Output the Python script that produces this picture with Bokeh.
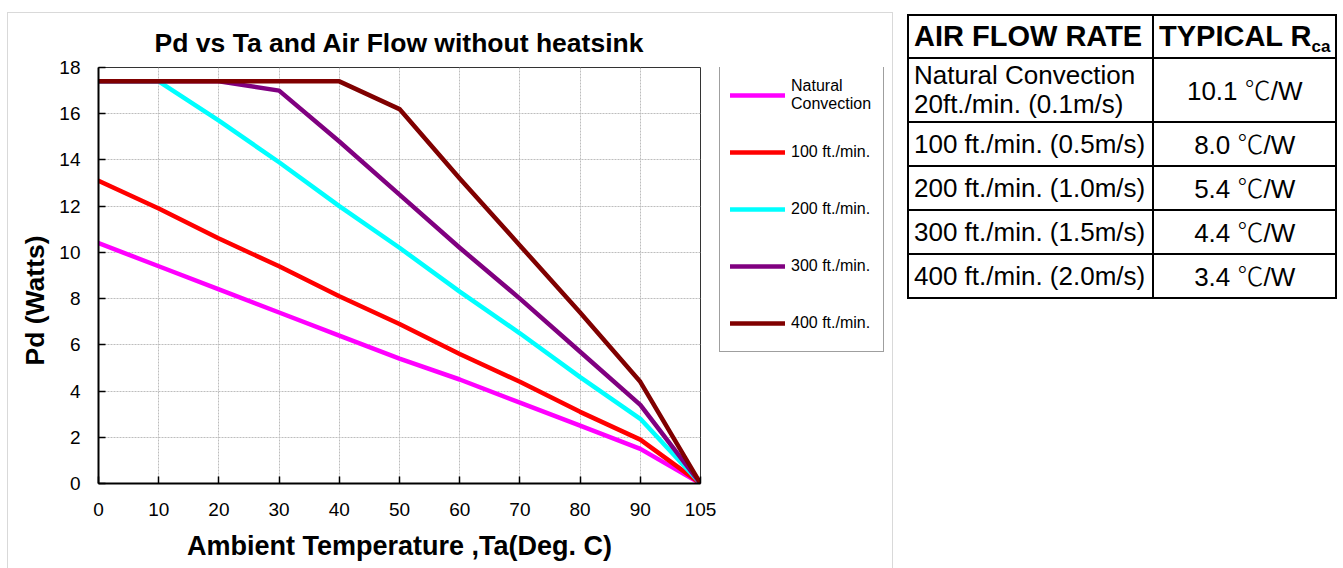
from bokeh.plotting import figure
from bokeh.models import (ColumnDataSource, Range1d, FixedTicker, Legend, LegendItem,
                          Title, Div)
from bokeh.layouts import row
from bokeh.embed import file_html
from bokeh.resources import INLINE

# ---------------- data ----------------
categories = ["0", "10", "20", "30", "40", "50", "60", "70", "80", "90", "105"]
natural = [10.4, 9.4, 8.4, 7.4, 6.4, 5.4, 4.5, 3.5, 2.5, 1.5, 0.0]
flow100 = [13.1, 11.9, 10.6, 9.4, 8.1, 6.9, 5.6, 4.4, 3.1, 1.9, 0.0]
flow200 = [17.4, 17.4, 15.7, 13.9, 12.0, 10.2, 8.3, 6.5, 4.6, 2.8, 0.0]
flow300 = [17.4, 17.4, 17.4, 17.0, 14.8, 12.5, 10.2, 8.0, 5.7, 3.4, 0.0]
flow400 = [17.4, 17.4, 17.4, 17.4, 17.4, 16.2, 13.2, 10.3, 7.4, 4.4, 0.0]
series_names = ["Natural\nConvection", "100 ft./min.", "200 ft./min.", "300 ft./min.", "400 ft./min."]
series_colors = ["#FF00FF", "#FF0000", "#00FFFF", "#800080", "#800000"]
y_ticks = [0, 2, 4, 6, 8, 10, 12, 14, 16, 18]

table_header = ["AIR FLOW RATE", "TYPICAL R", "ca"]
table_flow = [["Natural Convection", "20ft./min. (0.1m/s)"],
              ["100 ft./min. (0.5m/s)"],
              ["200 ft./min. (1.0m/s)"],
              ["300 ft./min. (1.5m/s)"],
              ["400 ft./min. (2.0m/s)"]]
table_rca = ["10.1", "8.0", "5.4", "4.4", "3.4"]
rca_unit = "\u2103/W"

FONT = "Liberation Sans"

xs = list(range(len(categories)))
data = dict(x=xs, natural=natural, f100=flow100, f200=flow200, f300=flow300, f400=flow400)
src = ColumnDataSource(data)
cols = ["natural", "f100", "f200", "f300", "f400"]

p = figure(width=711, height=555,
           min_border_left=90, min_border_right=19, min_border_top=54, min_border_bottom=85,
           x_range=Range1d(0, len(categories) - 1), y_range=Range1d(0, 18),
           output_backend="svg", toolbar_location=None,
           background_fill_color="white", border_fill_color="white")

p.title.text = "Pd vs Ta and Air Flow without heatsink"
p.title.align = "center"
p.title.text_font = FONT
p.title.text_font_size = "26.5px"
p.title.text_font_style = "bold"
p.title.text_color = "black"
p.title.standoff = 19

line_style = dict(line_width=4.5, line_cap="round", line_join="round")
renderers = []
for c, col in zip(series_colors, cols):
    renderers.append(p.line(x="x", y=col, source=src, line_color=c, **line_style))

# axes
p.xaxis.ticker = FixedTicker(ticks=xs)
p.xaxis.major_label_overrides = {i: lab for i, lab in zip(xs, categories)}
p.yaxis.ticker = FixedTicker(ticks=y_ticks)
for ax in (p.xaxis[0], p.yaxis[0]):
    ax.axis_line_color = "black"
    ax.axis_line_width = 2
    ax.major_tick_in = 7
    ax.major_tick_out = 0
    ax.major_tick_line_color = "black"
    ax.major_tick_line_width = 1.5
    ax.minor_tick_line_color = None
    ax.major_label_text_font = FONT
    ax.major_label_text_font_size = "19px"
    ax.major_label_text_color = "black"
p.xaxis.major_label_standoff = 19
p.yaxis.major_label_standoff = 18
p.xaxis.axis_label = "Ambient Temperature ,Ta(Deg. C)"
p.xaxis.axis_label_text_font = FONT
p.xaxis.axis_label_text_font_size = "27px"
p.xaxis.axis_label_text_font_style = "bold"
p.xaxis.axis_label_text_color = "black"
p.xaxis.axis_label_standoff = 12

ytitle = Title(text="Pd (Watts)", align="left", offset=118, standoff=14, text_font=FONT,
               text_font_size="26.5px", text_font_style="bold", text_color="black")
p.add_layout(ytitle, "left")

# grid
for g in (p.xgrid[0], p.ygrid[0]):
    g.grid_line_color = "#bdbdbd"
    g.grid_line_dash = "2 1"
    g.grid_line_width = 1
p.xgrid.ticker = FixedTicker(ticks=xs)
p.ygrid.ticker = FixedTicker(ticks=y_ticks)
p.outline_line_color = "#333333"
p.outline_line_width = 1

# ---------------- legend panel (same series, same styles; view kept off the data) ----------------
pl = figure(width=173, height=555, min_border_left=0, min_border_right=0,
            min_border_top=54, min_border_bottom=85,
            x_range=Range1d(1000, 1001), y_range=Range1d(1000, 1001),
            output_backend="svg", toolbar_location=None,
            background_fill_color="white", border_fill_color="white")
pl.axis.visible = False
pl.grid.visible = False
pl.outline_line_color = None
leg_renderers = [pl.line(x="x", y=col, source=src, line_color=c, **line_style)
                 for c, col in zip(series_colors, cols)]
legend = Legend(items=[LegendItem(label=n, renderers=[r]) for n, r in zip(series_names, leg_renderers)],
                location=(0, 131), margin=0, padding=10, spacing=21,
                glyph_width=55, glyph_height=36, label_height=36, label_width=82,
                label_standoff=6, label_text_font=FONT, label_text_font_size="16px",
                label_text_line_height=1.1,
                label_text_color="black", border_line_color="#404040", border_line_width=1.2,
                background_fill_color="white")
pl.add_layout(legend, "center")

chart = row(p, pl, margin=(12, 0, 0, 7),
            styles={"border-left": "1px solid #d9d9d9", "border-top": "1px solid #d9d9d9",
                    "border-right": "1px solid #d9d9d9"})

# ---------------- table ----------------
bd = "border:2px solid #000;"
cell = bd + "padding:0 5px;white-space:nowrap;"
rows_html = []
rows_html.append(
    f'<tr><th style="{cell}height:40px;width:245px;font-size:29px;text-align:left;">{table_header[0]}</th>'
    f'<th style="{cell}height:40px;width:172px;font-size:29px;text-align:center;">{table_header[1]}'
    f'<span style="font-size:17px;position:relative;top:6px;">{table_header[2]}</span></th></tr>')
for i, (flow, rca) in enumerate(zip(table_flow, table_rca)):
    h = 64 if len(flow) > 1 else 44
    rows_html.append(
        f'<tr><td style="{cell}height:{h}px;font-size:26px;line-height:29px;text-align:left;">{"<br>".join(flow)}</td>'
        f'<td style="{cell}height:{h}px;font-size:26px;text-align:center;">{rca} '
        f'<span style="font-family:\'Noto Sans CJK JP\';font-weight:300;">{rca_unit[0]}</span>{rca_unit[1:]}</td></tr>')
html = (f'<table style="border-collapse:collapse;font-family:\'{FONT}\',Arial,sans-serif;color:#000;">'
        + "".join(rows_html) + "</table>")
div = Div(text=html, width=440, height=290, margin=(14, 0, 0, 14))

layout = row(chart, div)
open("out.html", "w").write(file_html(layout, INLINE))
